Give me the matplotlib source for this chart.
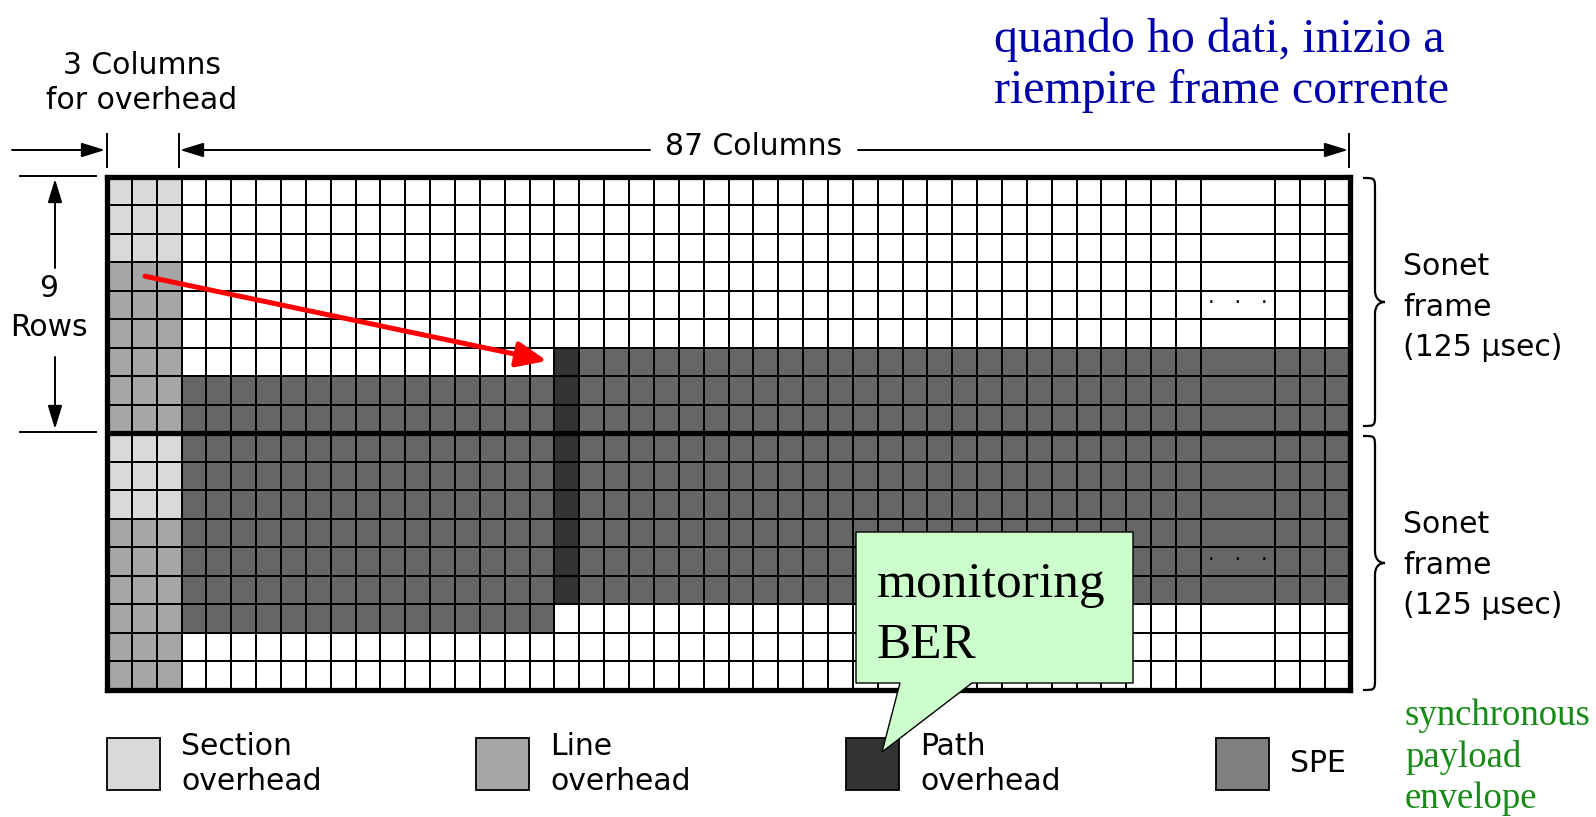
import numpy as np
import matplotlib
matplotlib.use("Agg")
import matplotlib.pyplot as plt
from matplotlib.colors import ListedColormap
from matplotlib.patches import Rectangle, Polygon, PathPatch
from matplotlib.path import Path

W, H = 1596, 817

# one string per row (two SONET frames of 9 rows)
# '.' empty, 'S' section overhead, 'L' line overhead, 'P' path overhead, 'E' SPE
frame_rows = [
    'SSS' + '.' * 45,
    'SSS' + '.' * 45,
    'SSS' + '.' * 45,
    'LLL' + '.' * 45,
    'LLL' + '.' * 45,
    'LLL' + '.' * 45,
    'LLL' + '.' * 15 + 'P' + 'E' * 29,
    'LLL' + 'E' * 15 + 'P' + 'E' * 29,
    'LLL' + 'E' * 15 + 'P' + 'E' * 29,
    'SSS' + 'E' * 15 + 'P' + 'E' * 29,
    'SSS' + 'E' * 15 + 'P' + 'E' * 29,
    'SSS' + 'E' * 15 + 'P' + 'E' * 29,
    'LLL' + 'E' * 15 + 'P' + 'E' * 29,
    'LLL' + 'E' * 15 + 'P' + 'E' * 29,
    'LLL' + 'E' * 15 + 'P' + 'E' * 29,
    'LLL' + 'E' * 15 + '.' * 30,
    'LLL' + '.' * 45,
    'LLL' + '.' * 45,
]
# the "..." column stands for the skipped columns
col_widths = [1] * 44 + [3] + [1] * 3
dots_col = 44
dots_rows = [4, 13]
rows_per_frame = 9

kind_order = ['.', 'S', 'L', 'P', 'E']
cell_colors = ['white', '#d9d9d9', '#a6a6a6', '#333333', '#666666']

legend_labels = ['Section\noverhead', 'Line\noverhead', 'Path\noverhead', 'SPE']
legend_colors = ['#d9d9d9', '#a6a6a6', '#333333', '#808080']
legend_x = [107, 476, 846, 1216]

frame_label = 'Sonet\nframe\n(125 \u03bcsec)'
note_top = ['quando ho dati, inizio a', 'riempire frame corrente']
note_spe = 'synchronous\npayload\nenvelope'

SERIF = 'Liberation Serif'
FS = 21.5

fig = plt.figure(figsize=(W / 100, H / 100), dpi=100)

# ---- the grid ----
gx0, gx1, gy0, gy1 = 107, 1350, 176.5, 689.5
axg = fig.add_axes([gx0 / W, 1 - gy1 / H, (gx1 - gx0) / W, (gy1 - gy0) / H])
grid = np.array([[kind_order.index(c) for c in row] for row in frame_rows])
x_edges = np.concatenate([[0], np.cumsum(col_widths)])
y_edges = np.arange(len(frame_rows) + 1)
axg.pcolormesh(x_edges, y_edges, grid, cmap=ListedColormap(cell_colors),
               vmin=-0.5, vmax=len(kind_order) - 0.5,
               edgecolors='black', linewidth=1.4)
axg.set_xlim(0, x_edges[-1])
axg.set_ylim(len(frame_rows), 0)
axg.set_xticks([])
axg.set_yticks([])
for sp in axg.spines.values():
    sp.set_linewidth(3.8)
axg.axhline(rows_per_frame, color='black', lw=3.8)
for r in dots_rows:
    axg.text(x_edges[dots_col] + col_widths[dots_col] / 2, r + 0.45, '\u00b7   \u00b7   \u00b7',
             ha='center', va='center', fontsize=15)

# red arrow: pointer in line overhead -> start of SPE
axg.annotate('', xy=(17.7, 6.47), xytext=(1.53, 3.5),
             arrowprops=dict(arrowstyle='-|>,head_length=1.3,head_width=0.55',
                             color='#ff0000', lw=3.6, mutation_scale=14,
                             shrinkA=0, shrinkB=0), annotation_clip=False)

# ---- overlay for labels ----
ax = fig.add_axes([0, 0, 1, 1])
ax.set_xlim(0, W)
ax.set_ylim(H, 0)
ax.axis('off')
ax.patch.set_alpha(0)

arrow_kw = dict(arrowstyle='-|>,head_length=1.3,head_width=0.4', color='black',
                lw=1.4, mutation_scale=11, shrinkA=0, shrinkB=0)


def arrow(p_from, p_to):
    ax.annotate('', xy=p_to, xytext=p_from, arrowprops=arrow_kw)


# column dimension lines
for x in [107, 179, 1349]:
    ax.plot([x, x], [134, 167], color='black', lw=1.4)
arrow((12, 150), (105, 150))
arrow((650, 150), (180, 150))
arrow((858, 150), (1348, 150))
ax.text(754, 146, '87 Columns', ha='center', va='center', fontsize=FS)
ax.text(142, 83, '3 Columns\nfor overhead', ha='center', va='center',
        fontsize=FS, linespacing=1.27)

# rows dimension
for y in [176, 432]:
    ax.plot([20, 96], [y, y], color='black', lw=1.4)
arrow((55, 268), (55, 179))
arrow((55, 357), (55, 429))
ax.text(49, 308, '9\nRows', ha='center', va='center', fontsize=FS, linespacing=1.45)


def brace(x0, y0, y1, r=12, dx1=12, dx2=22):
    xm, xt, ym = x0 + dx1, x0 + dx2, (y0 + y1) / 2
    verts = [(x0, y0), (xm, y0), (xm, y0), (xm, y0 + r),
             (xm, ym - r),
             (xm, ym - r / 3), (xt - 6, ym), (xt, ym),
             (xt - 6, ym), (xm, ym + r / 3), (xm, ym + r),
             (xm, y1 - r),
             (xm, y1), (xm, y1), (x0, y1)]
    codes = ([Path.MOVETO] + [Path.CURVE4] * 3 + [Path.LINETO] + [Path.CURVE4] * 6
             + [Path.LINETO] + [Path.CURVE4] * 3)
    ax.add_patch(PathPatch(Path(verts, codes), fill=False, lw=1.6, color='black'))


brace(1363, 178, 426)
brace(1363, 436, 690)
ax.text(1403, 307, frame_label, ha='left', va='center', fontsize=FS, linespacing=1.48)
ax.text(1403, 565, frame_label, ha='left', va='center', fontsize=FS, linespacing=1.48)

# legend
for lx, lab, col in zip(legend_x, legend_labels, legend_colors):
    ax.add_patch(Rectangle((lx, 738), 53, 52, fc=col, ec='black', lw=1.3))
    ax.text(lx + 74, 764, lab, ha='left', va='center', fontsize=FS, linespacing=1.25)

# notes
for i, line in enumerate(note_top):
    ax.text(994, 52 + 51 * i, line, ha='left', va='baseline', fontsize=34.5,
            family=SERIF, color='#0000a8')
ax.text(1405, 757, note_spe, ha='left', va='center', fontsize=26.5, family=SERIF,
        color='#178a17', linespacing=1.25)

# callout
ax.add_patch(Polygon([(856, 532), (1133, 532), (1133, 683), (972, 683),
                      (882, 752), (900, 683), (856, 683)],
                     closed=True, fc='#ccffcc', ec='black', lw=1.0))
ax.text(877, 597, 'monitoring', ha='left', va='baseline', fontsize=37, family=SERIF)
ax.text(877, 658, 'BER', ha='left', va='baseline', fontsize=37, family=SERIF)

fig.savefig('out.png', dpi=100)
